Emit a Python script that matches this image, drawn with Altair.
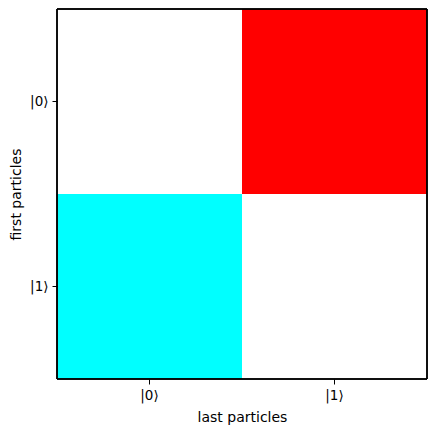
import altair as alt
import pandas as pd

first = ["|0⟩", "|0⟩", "|1⟩", "|1⟩"]
last = ["|0⟩", "|1⟩", "|0⟩", "|1⟩"]
values = [0, 1, -1, 0]

df = pd.DataFrame({"first": first, "last": last, "value": values})
states = ["|0⟩", "|1⟩"]

axis_common = dict(
    labelFont="DejaVu Sans", titleFont="DejaVu Sans", labelFontSize=13.5, titleFontSize=14,
    titleFontWeight="normal", labelColor="black", titleColor="black",
    domain=False, tickColor="black", tickSize=5, grid=False, labelAngle=0,
    labelPadding=4,
)

cells = alt.Chart(df).mark_rect().encode(
    x=alt.X("last:N", sort=states, title="last particles",
            scale=alt.Scale(paddingInner=0, paddingOuter=0),
            axis=alt.Axis(titlePadding=9, **axis_common)),
    y=alt.Y("first:N", sort=states, title="first particles",
            scale=alt.Scale(paddingInner=0, paddingOuter=0),
            axis=alt.Axis(titlePadding=6, **axis_common)),
    color=alt.Color("value:O", scale=alt.Scale(domain=[-1, 0, 1], range=["#00ffff", "#ffffff", "#ff0000"]), legend=None),
)

frame = alt.Chart(df).mark_rect(fillOpacity=0, stroke="black", strokeWidth=1).encode(
    x=alt.value(0), x2=alt.value(370), y=alt.value(0), y2=alt.value(370)
)

chart = alt.layer(cells, frame).properties(
    width=370, height=370,
    autosize=alt.AutoSizeParams(type="none"),
    padding={"left": 49, "top": 1, "right": 1, "bottom": 48},
).configure_view(stroke=None)

chart.save("out.html", embed_options={"renderer": "svg", "actions": False})
